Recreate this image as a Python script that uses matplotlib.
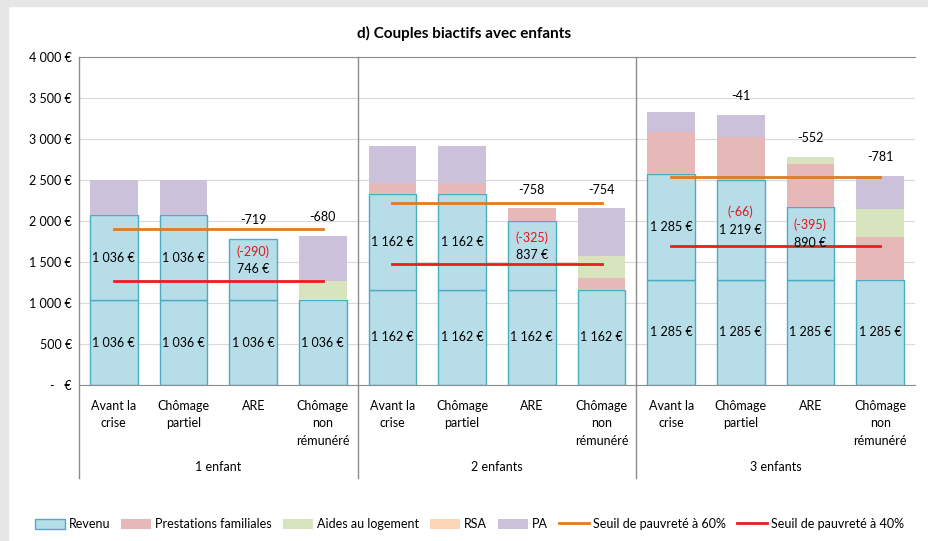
import matplotlib
matplotlib.use("Agg")
import matplotlib.pyplot as plt
import matplotlib.transforms as mtransforms
from matplotlib.patches import Patch, Rectangle
from matplotlib.lines import Line2D
import numpy as np

plt.rcParams['font.family'] = ['Lato', 'DejaVu Sans']

# --- données ---
groupes = ["1 enfant", "2 enfants", "3 enfants"]
situations = ["Avant la\ncrise", "Chômage\npartiel", "ARE", "Chômage\nnon\nrémunéré"]

revenu_1 = [1036, 1036, 1036, 1036, 1162, 1162, 1162, 1162, 1285, 1285, 1285, 1285]
revenu_2 = [1036, 1036, 746, 0, 1162, 1162, 837, 0, 1285, 1219, 890, 0]
prest_fam = [0, 0, 0, 0, 145, 145, 154, 143, 515, 515, 516, 517]
aides_log = [0, 0, 0, 228, 0, 0, 0, 273, 0, 0, 92, 339]
rsa = [0, 0, 0, 0, 0, 0, 0, 0, 0, 0, 0, 0]
pa = [428, 428, 0, 556, 442, 442, 0, 579, 250, 275, 0, 413]

ecarts = ["", "", "-719", "-680", "", "", "-758", "-754", "", "-41", "-552", "-781"]
pertes = ["", "", "(-290)", "", "", "", "(-325)", "", "", "(-66)", "(-395)", ""]

seuil_60 = [1905, 2218, 2540]
seuil_40 = [1270, 1479, 1693]

c_rev = '#B7DDE8'
c_rev_edge = '#4BACC6'
c_pf = '#E6B9B8'
c_al = '#D7E4BD'
c_rsa = '#FCD5B5'
c_pa = '#CCC1DA'
c_60 = '#E07B20'
c_40 = '#EE1C1C'

fs = 9


def fmt(v):
    return f"{v:,}".replace(",", " ") + " €"


fig = plt.figure(figsize=(9.29, 5.41), dpi=100)
# bord gris léger (ombre du cadre Excel)
fig.patches.append(Rectangle((0, 1 - 6 / 541), 1, 6 / 541, transform=fig.transFigure,
                             color='#E6E6E6', zorder=0))
fig.patches.append(Rectangle((0, 0), 8 / 929, 1, transform=fig.transFigure,
                             color='#E6E6E6', zorder=0))

ax = fig.add_axes([79 / 929, 1 - 385 / 541, (915 - 79) / 929, (385 - 57) / 541])

n = len(revenu_1)
x = np.arange(n)
w = 0.68

r1 = np.array(revenu_1)
r2 = np.array(revenu_2)
pf = np.array(prest_fam)
al = np.array(aides_log)
rs = np.array(rsa)
p = np.array(pa)

ax.bar(x, r1, w, color=c_rev, edgecolor=c_rev_edge, linewidth=1, zorder=2)
ax.bar(x, r2, w, bottom=r1, color=c_rev, edgecolor=np.where(r2 > 0, c_rev_edge, 'none'),
       linewidth=1, zorder=2)
b = r1 + r2
ax.bar(x, pf, w, bottom=b, color=c_pf, zorder=2)
b = b + pf
ax.bar(x, al, w, bottom=b, color=c_al, zorder=2)
b = b + al
ax.bar(x, rs, w, bottom=b, color=c_rsa, zorder=2)
b = b + rs
ax.bar(x, p, w, bottom=b, color=c_pa, zorder=2)
total = b + p

# étiquettes des revenus
for i in range(n):
    ax.text(x[i], r1[i] / 2, fmt(r1[i]), ha='center', va='center', fontsize=fs, zorder=4)
    if r2[i] > 0:
        ax.text(x[i], r1[i] + r2[i] / 2, fmt(r2[i]), ha='center', va='center',
                fontsize=fs, zorder=4)
    if pertes[i]:
        ax.annotate(pertes[i], (x[i], r1[i] + r2[i] / 2), xytext=(0, 13),
                    textcoords='offset points', ha='center', va='center',
                    fontsize=fs, color='#E8141B', zorder=4)
    if ecarts[i]:
        ax.annotate(ecarts[i], (x[i], total[i]), xytext=(0, 9),
                    textcoords='offset points', ha='center', va='bottom',
                    fontsize=fs, zorder=4)

# seuils de pauvreté
for g in range(3):
    xs = [x[4 * g], x[4 * g + 3]]
    ax.plot(xs, [seuil_60[g]] * 2, color=c_60, lw=2, zorder=3)
    ax.plot(xs, [seuil_40[g]] * 2, color=c_40, lw=2, zorder=3)

ax.set_xlim(-0.5, n - 0.5)
ax.set_ylim(0, 4000)
ax.set_yticks(np.arange(0, 4001, 500))
ax.set_yticklabels(["-   €"] + [fmt(v) for v in range(500, 4001, 500)], fontsize=fs)
ax.yaxis.grid(True, color='#D9D9D9', lw=0.8, zorder=0)
ax.set_axisbelow(True)
ax.tick_params(axis='y', length=0, pad=5)
ax.tick_params(axis='x', length=0)
ax.set_xticks([])

ax.spines['right'].set_visible(False)
ax.spines['left'].set_visible(False)
ax.spines['top'].set_color('#8C8C8C')
ax.spines['bottom'].set_color('#8C8C8C')

trans = mtransforms.blended_transform_factory(ax.transData, ax.transAxes)
y_bas = -0.284
for xv in [-0.5, 3.5, 7.5]:
    ax.plot([xv, xv], [1, y_bas], transform=trans, color='#8C8C8C', lw=1,
            clip_on=False, zorder=5)

for i in range(n):
    ax.text(x[i], -0.045, situations[i % 4], transform=trans, ha='center', va='top',
            fontsize=fs, linespacing=1.55)
for g in range(3):
    ax.text(4 * g + 1.5, -0.25, groupes[g], transform=trans, ha='center', va='center',
            fontsize=fs)

fig.text(0.5, 1 - 33 / 541, "d) Couples biactifs avec enfants", ha='center', va='center',
         fontsize=11, fontweight='bold')

handles = [
    Patch(facecolor=c_rev, edgecolor=c_rev_edge, label='Revenu'),
    Patch(facecolor=c_pf, label='Prestations familiales'),
    Patch(facecolor=c_al, label='Aides au logement'),
    Patch(facecolor=c_rsa, label='RSA'),
    Patch(facecolor=c_pa, label='PA'),
    Line2D([0], [0], color=c_60, lw=2, label='Seuil de pauvreté à 60%'),
    Line2D([0], [0], color=c_40, lw=2, label='Seuil de pauvreté à 40%'),
]
fig.legend(handles=handles, loc='center', bbox_to_anchor=(0.505, 1 - 524 / 541), ncol=7,
           frameon=False, fontsize=fs, handlelength=2.4, handleheight=0.9,
           handletextpad=0.3, columnspacing=0.9)

fig.savefig("out.png", dpi=100)
